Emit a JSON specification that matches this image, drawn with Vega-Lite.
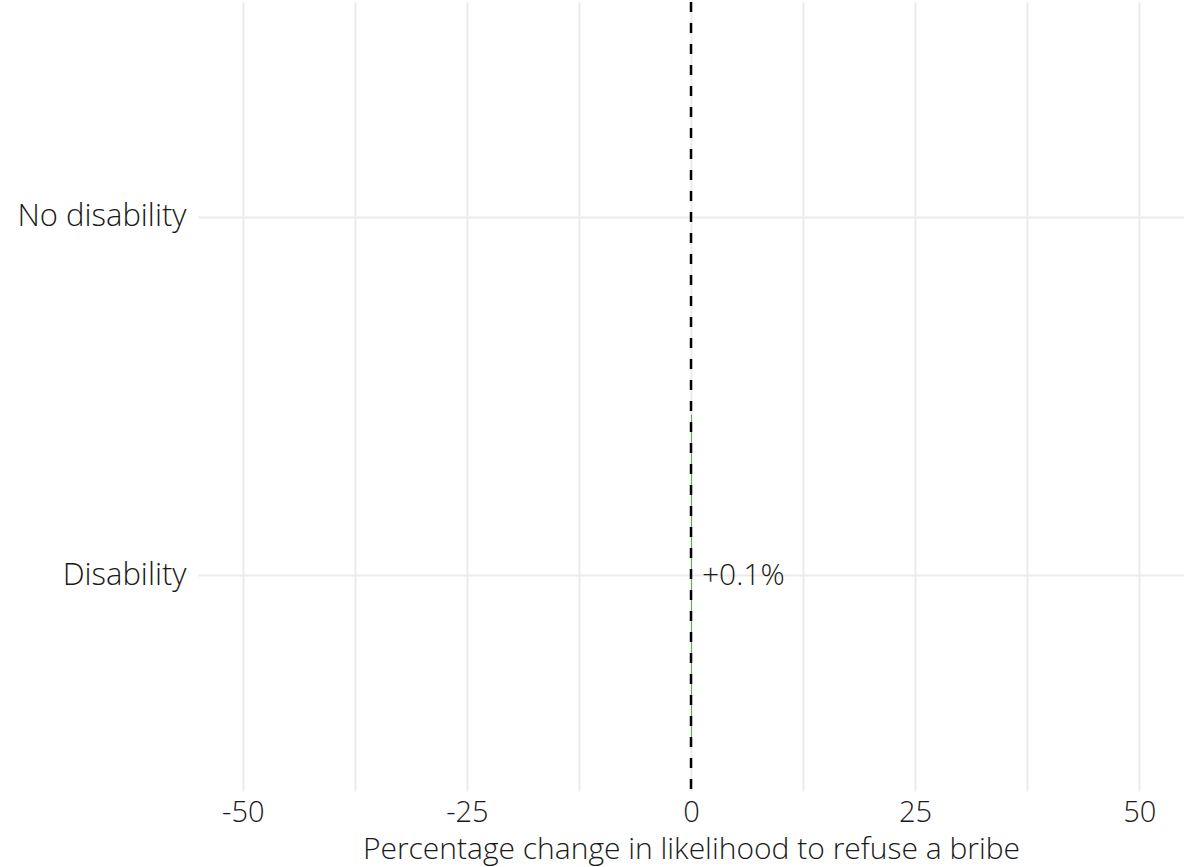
{
  "$schema": "https://vega.github.io/schema/vega-lite/v6.json",
  "width": 986,
  "height": 789,
  "autosize": {"type": "none"},
  "padding": {"left": 198, "top": 2, "right": 0, "bottom": 76},
  "background": "white",
  "config": {"view": {"stroke": null}, "font": "Open Sans"},
  "datasets": {
    "bars": [
      {"group": "Disability", "change": 0.1, "label": "+0.1%"}
    ],
    "ref": [{"zero": 0}]
  },
  "layer": [
    {
      "data": {"name": "bars"},
      "mark": {"type": "bar", "color": "#4dab3a"},
      "encoding": {
        "y": {
          "field": "group", "type": "nominal",
          "scale": {"domain": ["No disability", "Disability"], "paddingInner": 0.1, "paddingOuter": 0.15},
          "axis": {"title": null, "domain": false, "ticks": false, "labelFontSize": 31, "labelColor": "#1a1a1a", "labelPadding": 12, "gridColor": "#ebebeb", "gridWidth": 2, "grid": true, "labelFont": "Open Sans", "labelFontWeight": 300}
        },
        "x": {
          "field": "change", "type": "quantitative",
          "scale": {"domain": [-55, 55], "nice": false, "zero": false},
          "axis": {
            "title": "Percentage change in likelihood to refuse a bribe",
            "titleFontSize": 30, "titleFontWeight": 300, "titleColor": "#1a1a1a", "titlePadding": 7,
            "values": [-50, -37.5, -25, -12.5, 0, 12.5, 25, 37.5, 50],
            "labelExpr": "datum.value % 25 === 0 ? (datum.value < 0 ? '-' + abs(datum.value) : '' + datum.value) : ''",
            "labelFontSize": 29, "labelFontWeight": 300, "labelColor": "#1a1a1a", "labelPadding": 7,
            "labelFont": "Open Sans",
            "domain": false, "ticks": false, "gridColor": "#ebebeb", "gridWidth": 2
          }
        },
        "x2": {"datum": 0}
      }
    },
    {
      "data": {"name": "ref"},
      "mark": {"type": "rule", "color": "black", "strokeWidth": 2.5, "strokeDash": [10, 11]},
      "encoding": {"x": {"field": "zero", "type": "quantitative"}}
    },
    {
      "data": {"name": "bars"},
      "mark": {"type": "text", "align": "left", "baseline": "middle", "dx": 10, "fontSize": 30, "fontWeight": 300, "color": "#1a1a1a", "font": "Open Sans"},
      "encoding": {
        "y": {"field": "group", "type": "nominal"},
        "x": {"field": "change", "type": "quantitative"},
        "text": {"field": "label"}
      }
    }
  ]
}
